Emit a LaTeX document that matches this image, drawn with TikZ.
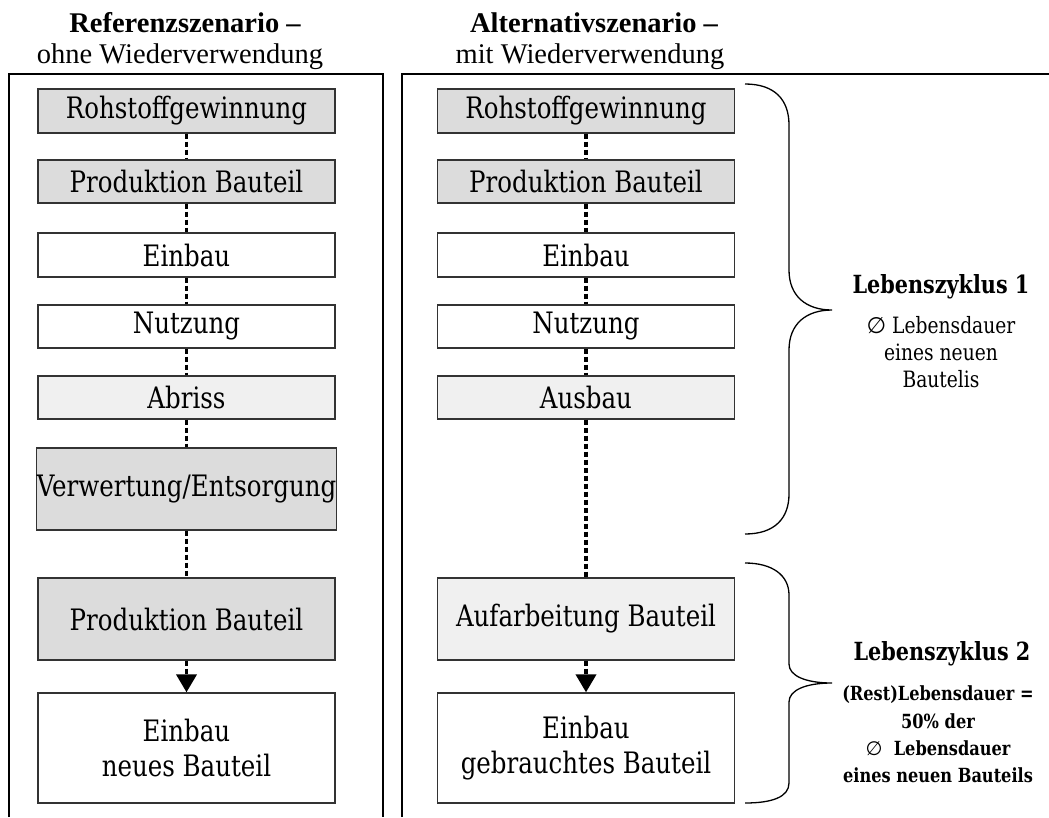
\documentclass[tikz,border=0pt]{standalone}
\usepackage{fontspec}
\setmainfont{Liberation Serif}
\newfontfamily\bxfont{DejaVu Serif}[FakeStretch=0.83]
\newfontfamily\symfont{DejaVu Sans}
\usetikzlibrary{arrows.meta}
\definecolor{gA}{HTML}{DCDCDC}
\definecolor{gB}{HTML}{F0F0F0}
\definecolor{bd}{HTML}{333333}
\tikzset{
  box/.style={draw=bd, line width=1.3pt, minimum width=297pt, inner sep=0pt, align=center,
    font=\bxfont\fontsize{29.5}{35}\selectfont},
  conn/.style={line width=3.8pt, dash pattern=on 5pt off 3pt},
  arr/.style={conn, -{Triangle[length=18pt,width=20pt]}},
  framel/.style={line width=1.8pt},
  bracel/.style={line width=1.3pt},
  head/.style={anchor=base, inner sep=0pt, font=\fontsize{28.5}{34}\selectfont},
  lzhead/.style={anchor=base, inner sep=0pt, font=\bxfont\bfseries\fontsize{25}{28}\selectfont},
  lztext/.style={anchor=base, inner sep=0pt, font=\bxfont\fontsize{22.5}{26}\selectfont},
  lztextb/.style={anchor=base, inner sep=0pt, font=\bxfont\bfseries\fontsize{19.5}{26}\selectfont}
}
\begin{document}
\begin{tikzpicture}[x=1pt,y=-1pt]
\useasboundingbox (0,0) rectangle (1049,817);
% headers
\node[head] (h1a) at (185,32) {\bfseries Referenzszenario –};
\node[head] (h1b) at (180,63) {ohne Wiederverwendung};
\node[head] (h2a) at (594,32) {\bfseries Alternativszenario –};
\node[head] (h2b) at (590,63) {mit Wiederverwendung};
% frames
\draw[framel] (9,817) -- (9,74) -- (383,74) -- (383,817);
\draw[framel] (402,817) -- (402,74) -- (1049,74);
% left column
\node[box, fill=gA, minimum height=44pt] (l1) at (186.5,111) {Rohstoffgewinnung};
\node[box, fill=gA, minimum height=43pt] (l2) at (186.5,181.5) {Produktion Bauteil};
\node[box, fill=white, minimum height=44pt] (l3) at (186.5,255) {Einbau};
\node[box, fill=white, minimum height=43pt] (l4) at (186.5,326.5) {Nutzung};
\node[box, fill=gB, minimum height=43pt] (l5) at (186.5,397.5) {Abriss};
\node[box, fill=gA, minimum height=82pt] (l6) at (186.5,489) {Verwertung/Entsorgung};
\node[box, fill=gA, minimum height=82pt] (l7) at (186.5,619) {Produktion Bauteil};
\node[box, fill=white, minimum height=110pt] (l8) at (186.5,748) {Einbau\\neues Bauteil};
% right column
\node[box, fill=gA, minimum height=44pt] (r1) at (586,111) {Rohstoffgewinnung};
\node[box, fill=gA, minimum height=43pt] (r2) at (586,181.5) {Produktion Bauteil};
\node[box, fill=white, minimum height=44pt] (r3) at (586,255) {Einbau};
\node[box, fill=white, minimum height=43pt] (r4) at (586,326.5) {Nutzung};
\node[box, fill=gB, minimum height=43pt] (r5) at (586,397.5) {Ausbau};
\node[box, fill=gB, minimum height=82pt] (r6) at (586,619) {Aufarbeitung Bauteil};
\node[box, fill=white, minimum height=110pt] (r7) at (586,748) {Einbau\\gebrauchtes Bauteil};
% connectors
\draw[conn] (l1.south) -- (l2.north);
\draw[conn] (l2.south) -- (l3.north);
\draw[conn] (l3.south) -- (l4.north);
\draw[conn] (l4.south) -- (l5.north);
\draw[conn] (l5.south) -- (l6.north);
\draw[conn] (l6.south) -- (l7.north);
\draw[arr] (l7.south) -- (l8.north);
\draw[conn] (r1.south) -- (r2.north);
\draw[conn] (r2.south) -- (r3.north);
\draw[conn] (r3.south) -- (r4.north);
\draw[conn] (r4.south) -- (r5.north);
\draw[conn] (r5.south) -- (r6.north);
\draw[arr] (r6.south) -- (r7.north);
% braces
\draw[bracel] (745,84) .. controls (775,84) and (789,100) .. (789,125) -- (789,270)
  .. controls (789,296) and (806,310) .. (832,310)
  .. controls (806,310) and (789,324) .. (789,350) -- (789,494)
  .. controls (789,518) and (775,534) .. (745,534);
\draw[bracel] (745,563) .. controls (772,563) and (789,575) .. (789,595) -- (789,664)
  .. controls (789,676) and (806,683) .. (832,683)
  .. controls (806,683) and (789,690) .. (789,702) -- (789,783)
  .. controls (789,797) and (772,803) .. (745,803);
% labels
\node[lzhead] (z1) at (941,293) {Lebenszyklus 1};
\node[lztext] (z1a) at (941,333) {{\symfont ∅} Lebensdauer};
\node[lztext] (z1b) at (941,360) {eines neuen};
\node[lztext] (z1c) at (941,387) {Bautelis};
\node[lzhead] (z2) at (942,660) {Lebenszyklus 2};
\node[lztextb] (z2a) at (938,700) {(Rest)Lebensdauer =};
\node[lztextb] (z2b) at (938,728) {50\% der};
\node[lztextb] (z2c) at (938,755) {{\symfont\mdseries ∅}\ \ Lebensdauer};
\node[lztextb] (z2d) at (938,782) {eines neuen Bauteils};
\end{tikzpicture}
\end{document}
